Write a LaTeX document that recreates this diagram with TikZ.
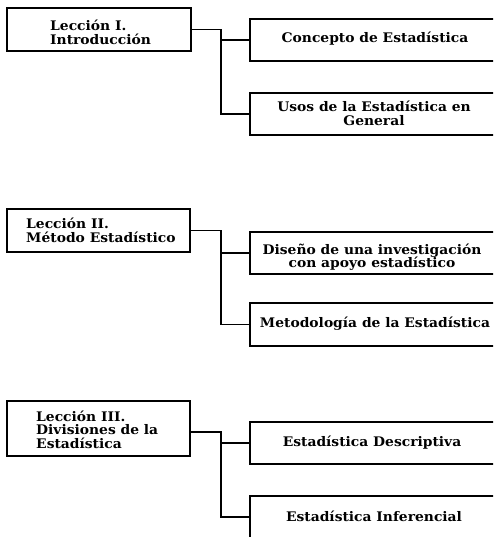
\documentclass[tikz,border=0pt]{standalone}
\usepackage{fontspec}
\newfontfamily\diafont{DejaVu Serif}[FakeStretch=1.05]
\newcommand\leftlines[1]{\vtop{\lineskiplimit=-100pt\lineskip=0pt\halign{##\hfil\cr#1\crcr}}}
\newcommand\midlines[1]{\vtop{\lineskiplimit=-100pt\lineskip=0pt\halign{\hfil##\hfil\cr#1\crcr}}}
\begin{document}
\begin{tikzpicture}[x=1pt,y=-1pt,
  box/.style={draw, line width=1.2pt, inner sep=0pt},
  txt/.style={inner sep=0pt, anchor=base, font=\diafont\bfseries\fontsize{13.2}{13.8}\selectfont},
  link/.style={line width=1.2pt}]
\useasboundingbox (0,0) rectangle (493,537);
\clip (0,0) rectangle (493,537);
% block 1
\node[box, minimum width=184pt, minimum height=43pt] (L1) at (99,29.5) {};
\node[box, minimum width=252pt, minimum height=42pt] (R1a) at (376,40) {};
\node[box, minimum width=252pt, minimum height=42pt] (R1b) at (376,114) {};
\node[txt, anchor=base west] (T1) at (50,30.5) {\leftlines{Lección I.\cr Introducción}};
\node[txt] (T1a) at (375,43) {Concepto de Estadística};
\node[txt] (T1b) at (374,112) {\midlines{Usos de la Estadística en\cr General}};
\coordinate (h1) at (221,0);
\draw[link] (L1.east) -| (h1 |- R1b.west) -- (R1b.west);
\draw[link] (h1 |- R1a.west) -- (R1a.west);
% block 2
\node[box, minimum width=183pt, minimum height=43pt] (L2) at (98.5,230.5) {};
\node[box, minimum width=252pt, minimum height=42pt] (R2a) at (376,253) {};
\node[box, minimum width=252pt, minimum height=43pt] (R2b) at (376,324.5) {};
\node[txt, anchor=base west] (T2) at (26,228.5) {\leftlines{Lección II.\cr Método Estadístico}};
\node[txt] (T2a) at (372,254) {\midlines{Diseño de una investigación\cr con apoyo estadístico}};
\node[txt] (T2b) at (375,327.5) {Metodología de la Estadística};
\coordinate (h2) at (221,0);
\draw[link] (L2.east) -| (h2 |- R2b.west) -- (R2b.west);
\draw[link] (h2 |- R2a.west) -- (R2a.west);
% block 3
\node[box, minimum width=183pt, minimum height=55pt] (L3) at (98.5,428.5) {};
\node[box, minimum width=252pt, minimum height=42pt] (R3a) at (376,443) {};
\node[box, minimum width=252pt, minimum height=64pt] (R3b) at (376,528) {};
\node[txt, anchor=base west] (T3) at (36,421) {\leftlines{Lección III.\cr Divisiones de la\cr Estadística}};
\node[txt] (T3a) at (372,446) {Estadística Descriptiva};
\node[txt] (T3b) at (374,521) {Estadística Inferencial};
\coordinate (h3) at (221,0);
\coordinate (e3) at ([yshift=11pt]R3b.west);
\draw[link] ([yshift=-3.5pt]L3.east) -| (h3 |- e3) -- (e3);
\draw[link] (h3 |- R3a.west) -- (R3a.west);
\end{tikzpicture}
\end{document}
